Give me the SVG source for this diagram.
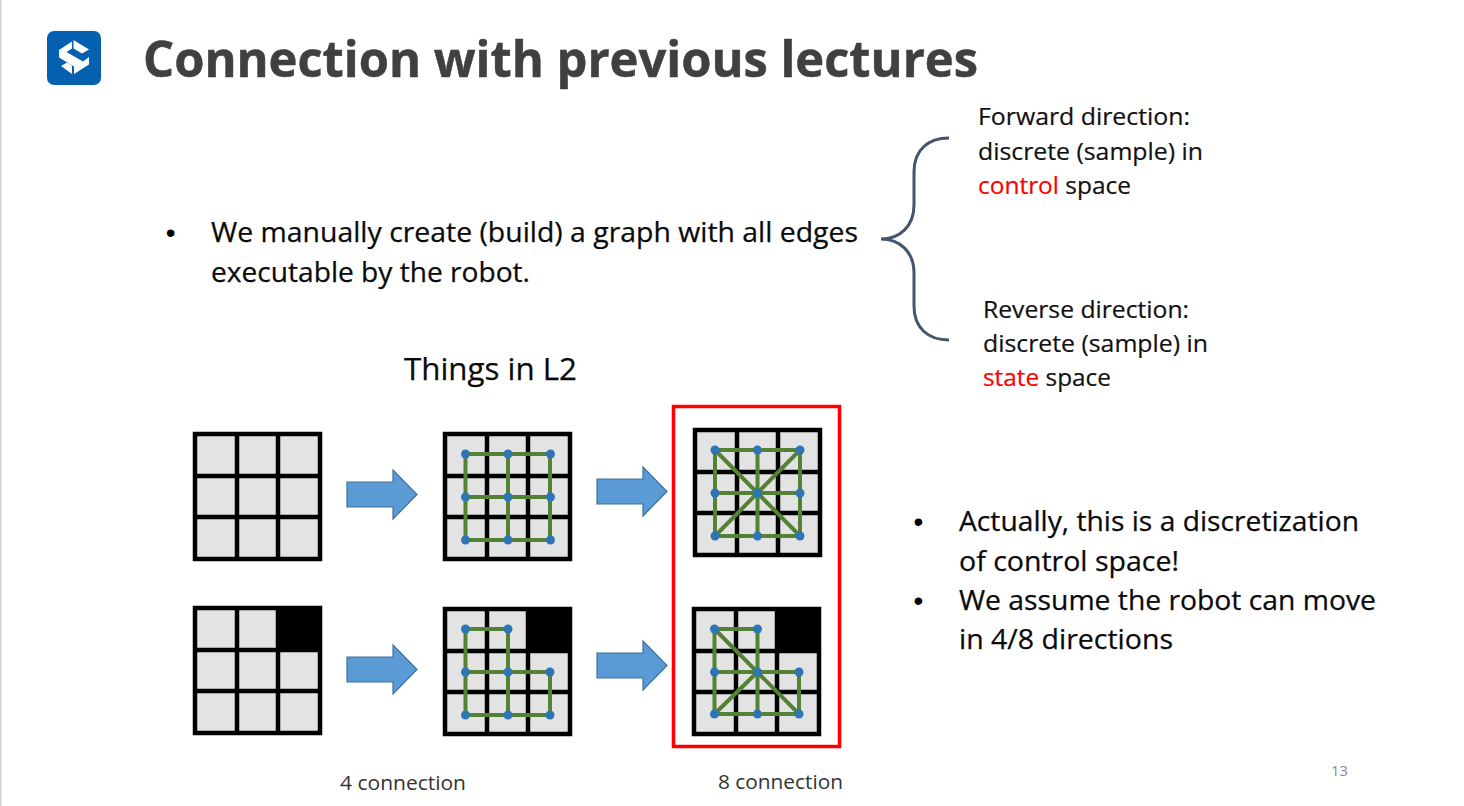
<svg xmlns="http://www.w3.org/2000/svg" width="1464" height="806" viewBox="0 0 1464 806">
<style>
text{font-family:"Open Sans","Noto Sans","Liberation Sans",sans-serif;fill:#111}
.t{font-size:28px;fill:#0a0a0a;stroke:#0a0a0a;stroke-width:.25}
.s{font-size:24px;fill:#111;stroke:#111;stroke-width:.2}
.c{font-size:20px;fill:#333}
.b{font-family:"Liberation Sans",Arial,sans-serif;font-size:28px;fill:#000}
.s .r{fill:#f00;stroke:#f00}
.gl{stroke:#000;stroke-width:4.500;fill:none}
.e{stroke:#548235;stroke-width:4;fill:none}
.d{fill:#2e75b6}
.a{fill:#5b9bd5;stroke:#41719c;stroke-width:1.200}
</style>
<defs>
<g id="grid">
<rect x="2" y="2" width="125" height="125" fill="#e3e3e3"/>
<path class="gl" d="M2 2H127V127H2ZM44 2V127M85 2V127M2 44H127M2 85H127"/>
</g>
<g id="dots">
<circle class="d" cx="0" cy="0" r="4.500"/><circle class="d" cx="42.500" cy="0" r="4.500"/><circle class="d" cx="85" cy="0" r="4.500"/>
<circle class="d" cx="0" cy="43" r="4.500"/><circle class="d" cx="42.500" cy="43" r="4.500"/><circle class="d" cx="85" cy="43" r="4.500"/>
<circle class="d" cx="0" cy="86" r="4.500"/><circle class="d" cx="42.500" cy="86" r="4.500"/><circle class="d" cx="85" cy="86" r="4.500"/>
</g>
<path id="arrow" class="a" d="M0 9H46V-3L70 21.500 46 46V34H0Z"/>
</defs>
<rect width="1464" height="806" fill="#fff"/>
<rect x="0" y="0" width="1.500" height="806" fill="#cfcfcf"/>

<g id="logo">
<rect x="47" y="31" width="54" height="54" rx="7" fill="#0560b0"/>
<path fill="#fff" d="M73.500 40L89 49.500 82 53.500 73.500 48.500Z"/>
<path fill="#fff" d="M59 50L72 41.500V48.500L66.500 52 83 61.500 89 57V64.500L74 74V66.500L59 57.500Z"/>
<path fill="#fff" d="M61 66L67 62.500 72 65.500V74Z"/>
</g>
<text id="title" x="143" y="77" font-size="50" font-weight="700" style="fill:#404040;stroke:#404040;stroke-width:.5" textLength="835" lengthAdjust="spacingAndGlyphs">Connection with previous lectures</text>

<g id="bullet-main">
<text class="b" x="165.800" y="241.500">•</text>
<text class="t" x="211" y="242" textLength="647" lengthAdjust="spacingAndGlyphs">We manually create (build) a graph with all edges</text>
<text class="t" x="211" y="282" textLength="319" lengthAdjust="spacingAndGlyphs">executable by the robot.</text>
</g>

<path id="brace" d="M949 138C928 138 914 150 914 172V205C914 226 900 239 881 239C900 239 914 252 914 273V306C914 328 928 340 949 340" fill="none" stroke="#44546a" stroke-width="3"/>

<g id="forward">
<text class="s" x="978" y="125" textLength="212" lengthAdjust="spacingAndGlyphs">Forward direction:</text>
<text class="s" x="978" y="160" textLength="225" lengthAdjust="spacingAndGlyphs">discrete (sample) in</text>
<text class="s" x="978" y="194" textLength="153" lengthAdjust="spacingAndGlyphs"><tspan class="r">control</tspan> space</text>
</g>
<g id="reverse">
<text class="s" x="983" y="318" textLength="206" lengthAdjust="spacingAndGlyphs">Reverse direction:</text>
<text class="s" x="983" y="352" textLength="225" lengthAdjust="spacingAndGlyphs">discrete (sample) in</text>
<text class="s" x="983" y="386" textLength="128" lengthAdjust="spacingAndGlyphs"><tspan class="r">state</tspan> space</text>
</g>

<text id="things" x="404" y="380" font-size="31" textLength="173" lengthAdjust="spacingAndGlyphs" style="fill:#0a0a0a;stroke:#0a0a0a;stroke-width:.25">Things in L2</text>

<g id="grid-a1"><use href="#grid" x="193" y="432"/></g>
<g id="grid-a2">
<use href="#grid" x="443" y="432"/>
<path class="e" d="M465.500 454H550V540H465.500ZM465.500 497H550M508 454V540"/>
<use href="#dots" x="465.500" y="454"/>
</g>
<g id="grid-a3">
<use href="#grid" x="693" y="428"/>
<path class="e" d="M715 450H800V536H715ZM715 493H800M757.500 450V536M715 450L800 536M800 450L715 536"/>
<use href="#dots" x="715" y="450"/>
</g>

<g id="grid-b1"><use href="#grid" x="193" y="606"/><rect x="277" y="606" width="45" height="45"/></g>
<g id="grid-b2">
<use href="#grid" x="443" y="607"/><rect x="527" y="607" width="45" height="45"/>
<path class="e" d="M465.500 629H508V715M465.500 629V715H550V672H465.500"/>
<circle class="d" cx="465.500" cy="629" r="4.500"/><circle class="d" cx="508" cy="629" r="4.500"/>
<circle class="d" cx="465.500" cy="672" r="4.500"/><circle class="d" cx="508" cy="672" r="4.500"/><circle class="d" cx="550" cy="672" r="4.500"/>
<circle class="d" cx="465.500" cy="715" r="4.500"/><circle class="d" cx="508" cy="715" r="4.500"/><circle class="d" cx="550" cy="715" r="4.500"/>
</g>
<g id="grid-b3">
<use href="#grid" x="692" y="607"/><rect x="776" y="607" width="45" height="45"/>
<path class="e" d="M714.500 629H757.500V714M714.500 629V714H799V672H714.500M714.500 629L799 714M757.500 672L714.500 714"/>
<circle class="d" cx="714.500" cy="629" r="4.500"/><circle class="d" cx="757.500" cy="629" r="4.500"/>
<circle class="d" cx="714.500" cy="672" r="4.500"/><circle class="d" cx="757.500" cy="672" r="4.500"/><circle class="d" cx="799" cy="672" r="4.500"/>
<circle class="d" cx="714.500" cy="714" r="4.500"/><circle class="d" cx="757.500" cy="714" r="4.500"/><circle class="d" cx="799" cy="714" r="4.500"/>
</g>

<g id="connectors">
<use href="#arrow" x="347" y="473"/>
<use href="#arrow" x="597" y="470"/>
<use href="#arrow" x="347" y="648"/>
<use href="#arrow" x="597" y="644"/>
</g>

<rect id="highlight" x="673.500" y="406.500" width="166" height="340" fill="none" stroke="#f00" stroke-width="3.500"/>

<g id="bullet-side">
<text class="b" x="913.600" y="531">•</text>
<text class="t" x="959" y="531" textLength="400" lengthAdjust="spacingAndGlyphs">Actually, this is a discretization</text>
<text class="t" x="959" y="571" textLength="220" lengthAdjust="spacingAndGlyphs">of control space!</text>
<text class="b" x="913.600" y="610">•</text>
<text class="t" x="959" y="610" textLength="417" lengthAdjust="spacingAndGlyphs">We assume the robot can move</text>
<text class="t" x="959" y="649" textLength="214" lengthAdjust="spacingAndGlyphs">in 4/8 directions</text>
</g>

<text id="label-4" class="c" x="340" y="790" textLength="126" lengthAdjust="spacingAndGlyphs">4 connection</text>
<text id="label-8" class="c" x="718" y="789" textLength="125" lengthAdjust="spacingAndGlyphs">8 connection</text>
<text id="page" x="1331" y="776" font-size="15" style="fill:#8a8a8a" textLength="17">13</text>
</svg>
